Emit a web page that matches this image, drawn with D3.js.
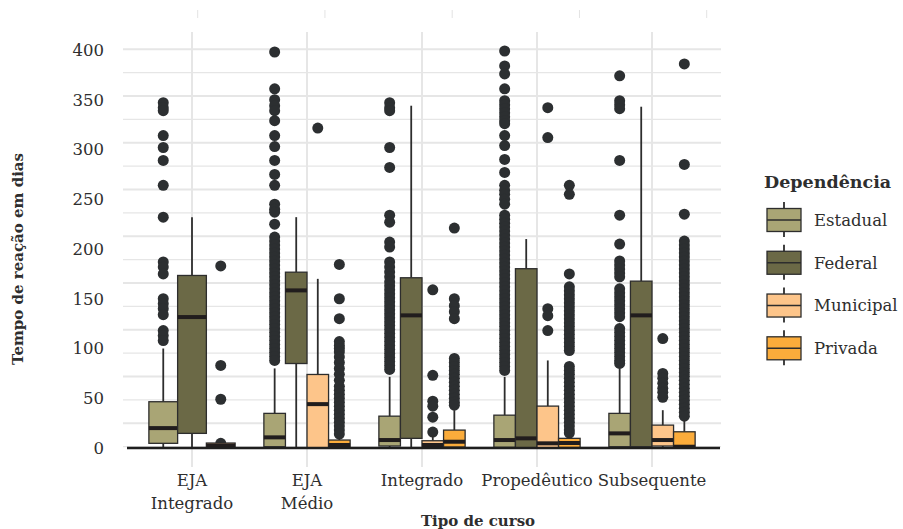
<!DOCTYPE html>
<html>
<head>
<meta charset="utf-8">
<style>
  body { margin: 0; background: #fff; }
  svg text { font-family: "DejaVu Serif", serif; fill: #2e2e2e; }
</style>
</head>
<body>
<svg id="chart" width="903" height="529"></svg>
<script src="https://cdn.jsdelivr.net/npm/d3@7/dist/d3.min.js"></script>
<script>
const cursos = ["EJA Integrado", "EJA Médio", "Integrado", "Propedêutico", "Subsequente"];
const cursoLabels = [["EJA", "Integrado"], ["EJA", "Médio"], ["Integrado"], ["Propedêutico"], ["Subsequente"]];
const dependencias = ["Estadual", "Federal", "Municipal", "Privada"];
const cores = ["#a9a575", "#6b6946", "#fdc58a", "#fbac3b"];
const yTicks = [0, 50, 100, 150, 200, 250, 300, 350, 400];

// [whisker low, q1, median, q3, whisker high] per curso (null = no data)
const estadual = [[0, 4.7, 20, 46.5, 100], [0, 1.3, 10.7, 34.8, 80], [0, 2, 8, 32, 71.5], [0, 0.7, 8, 33, 71.5], [0, 1.3, 14.7, 34.8, 80]];
const federal = [[0, 14.7, 131.6, 173.4, 232], [0, 84.9, 158.4, 176.7, 232], [0, 9.7, 133.3, 171.1, 344], [0, 0, 9.7, 180.2, 210], [0, 1.3, 133.3, 167.7, 343]];
const municipal = [[0, 0.5, 2.5, 5, 6], [0, 0, 44.1, 73.9, 170], [0, 0, 3, 7.3, 13], [0, 0, 4.7, 42.1, 88], [0, 2, 8, 23, 38]];
const privada = [null, [0, 0.5, 3, 8, 10], [0, 1, 6.3, 18, 38], [0, 0.5, 5, 9.7, 13], [0, 0, 1.3, 16.3, 28]];

const estadualOut = [
  [347, 342, 339, 314, 302, 289, 264, 232, 187, 182, 175, 150, 145, 140, 134, 118, 113, 108],
  [398, 361, 350, 344, 339, 329, 314, 303, 289, 275, 264, 245, 240, 237, 225, 212, 208, 204, 200, 196, 192, 188, 184, 180, 176, 172, 168, 164, 160, 156, 152, 148, 144, 140, 136, 132, 128, 124, 120, 116, 112, 108, 104, 100, 96, 92, 88],
  [347, 342, 339, 302, 282, 234, 227, 207, 202, 187, 182, 177, 172, 167, 163, 159, 155, 151, 147, 143, 139, 135, 131, 127, 123, 119, 115, 111, 107, 103, 99, 95, 91, 87, 83, 79],
  [399, 384, 376, 361, 349, 345, 341, 337, 333, 329, 326, 314, 304, 290, 277, 264, 259, 255, 250, 245, 234, 230, 226, 222, 218, 214, 210, 206, 202, 198, 194, 190, 186, 182, 178, 174, 170, 166, 162, 158, 154, 150, 146, 142, 138, 134, 130, 126, 122, 118, 114, 110, 106, 102, 98, 94, 90, 86, 82, 78],
  [374, 349, 345, 341, 289, 234, 205, 188, 184, 180, 176, 172, 160, 156, 152, 148, 144, 140, 136, 132, 120, 116, 112, 108, 104, 100, 96, 92, 88, 85]
];
const federalOut = [[], [], [], [], []];
const municipalOut = [
  [183, 83, 49, 4.7],
  [321.5],
  [159, 73, 47, 42, 31, 16],
  [342, 312, 140, 133, 118],
  [110, 75, 70, 65, 60, 56, 51]
];
const privadaOut = [
  [],
  [184.5, 150, 130, 107, 103, 100, 96.5, 91.5, 86, 80, 74, 68, 62, 58, 54, 50, 46, 42, 38, 34, 30, 26, 22, 18, 14],
  [221, 150, 143, 137, 130, 90, 86, 82, 78, 74, 70, 66, 62, 58, 54, 50, 46, 43],
  [264, 255, 175, 162, 158, 154, 150, 146, 142, 138, 134, 130, 126, 122, 118, 114, 110, 106, 102, 98, 82, 78, 74, 70, 66, 62, 58, 54, 50, 46, 42, 38, 34, 30, 26, 22, 18, 15],
  [386, 285, 235, 208, 204, 200, 196, 192, 188, 184, 180, 176, 172, 168, 164, 160, 156, 152, 148, 144, 140, 136, 132, 128, 124, 120, 116, 112, 108, 104, 100, 96, 92, 88, 84, 80, 76, 72, 68, 64, 60, 56, 52, 48, 44, 40, 36, 32]
];

const stats = [estadual, federal, municipal, privada];
const outs = [estadualOut, federalOut, municipalOut, privadaOut];

const svg = d3.select("#chart");
const panel = { left: 123, right: 721, top: 32, bottom: 467 };

const x = d3.scalePoint()
  .domain(cursos)
  .range([panel.left, panel.right])
  .padding(0.6);
const step = x.step();

const y = d3.scaleLinear()
  .domain([0, 400])
  .range([448, 50]);

// background grid
const gridY = d3.range(18).map(k => 1.3 + k * 399.4 / 17);
svg.append("g")
  .selectAll("line")
  .data(gridY)
  .join("line")
  .attr("x1", panel.left).attr("x2", panel.right)
  .attr("y1", d => y(d)).attr("y2", d => y(d))
  .attr("stroke", "#e6e6e6")
  .attr("stroke-width", (d, i) => (i % 2 === 1 ? 2 : 1.2));

svg.append("g")
  .selectAll("line")
  .data(cursos)
  .join("line")
  .attr("x1", d => x(d)).attr("x2", d => x(d))
  .attr("y1", panel.top).attr("y2", panel.bottom)
  .attr("stroke", "#e6e6e6")
  .attr("stroke-width", 2);

// faint ticks at the top
const xTop = d3.scalePoint().domain(cursos).range([197.7, 706.7]);
svg.append("g")
  .selectAll("line")
  .data(cursos)
  .join("line")
  .attr("x1", d => xTop(d)).attr("x2", d => xTop(d))
  .attr("y1", 10).attr("y2", 18)
  .attr("stroke", "#e3e3e3")
  .attr("stroke-width", 1);

// boxes
const dodge = 0.75 * step;
const plot = svg.append("g");
cursos.forEach((c, i) => {
  const present = dependencias.map((d, j) => j).filter(j => stats[j][i] !== null);
  const w = dodge / present.length;
  present.forEach((j, k) => {
    const s = stats[j][i];
    const x0 = x(c) - dodge / 2 + w * k;
    const cx = x0 + w / 2;
    const g = plot.append("g");
    g.selectAll("circle")
      .data(outs[j][i])
      .join("circle")
      .attr("cx", cx)
      .attr("cy", d => y(d))
      .attr("r", 5.5)
      .attr("fill", "#2c2f31");
    g.append("line")
      .attr("x1", cx).attr("x2", cx)
      .attr("y1", y(s[4])).attr("y2", y(s[3]))
      .attr("stroke", "#2d2d2d").attr("stroke-width", 1.8);
    g.append("line")
      .attr("x1", cx).attr("x2", cx)
      .attr("y1", y(s[1])).attr("y2", y(s[0]))
      .attr("stroke", "#2d2d2d").attr("stroke-width", 1.8);
    g.append("rect")
      .attr("x", x0).attr("width", w)
      .attr("y", y(s[3])).attr("height", Math.max(0.5, y(s[1]) - y(s[3])))
      .attr("fill", cores[j])
      .attr("stroke", "#2d2d2d")
      .attr("stroke-width", 1.3);
    g.append("line")
      .attr("x1", x0).attr("x2", x0 + w)
      .attr("y1", y(s[2])).attr("y2", y(s[2]))
      .attr("stroke", "#211d1d")
      .attr("stroke-width", 4);
  });
});

// zero line
svg.append("line")
  .attr("x1", 127).attr("x2", 720)
  .attr("y1", y(0)).attr("y2", y(0))
  .attr("stroke", "#1e1e1e")
  .attr("stroke-width", 2.5);

// y axis labels
svg.append("g")
  .selectAll("text")
  .data(yTicks)
  .join("text")
  .attr("x", 104)
  .attr("y", d => y(d))
  .attr("dy", "0.35em")
  .attr("text-anchor", "end")
  .style("font-size", "16.5px")
  .text(d => d);

// x axis labels
const xl = svg.append("g")
  .selectAll("text")
  .data(cursos)
  .join("text")
  .attr("x", d => x(d))
  .attr("y", 486)
  .attr("text-anchor", "middle")
  .style("font-size", "16.5px");
xl.selectAll("tspan")
  .data((d, i) => cursoLabels[i])
  .join("tspan")
  .attr("x", function () { return d3.select(this.parentNode).attr("x"); })
  .attr("dy", (d, i) => (i === 0 ? 0 : 23))
  .text(d => d);

// axis titles
svg.append("text")
  .attr("x", 478).attr("y", 526)
  .attr("text-anchor", "middle")
  .style("font-size", "15px")
  .style("font-weight", "bold")
  .text("Tipo de curso");

svg.append("text")
  .attr("transform", "translate(23,259) rotate(-90)")
  .attr("text-anchor", "middle")
  .style("font-size", "15px")
  .style("font-weight", "bold")
  .text("Tempo de reação em dias");

// legend
const legend = svg.append("g");
legend.append("text")
  .attr("x", 764).attr("y", 188)
  .style("font-size", "17.5px")
  .style("font-weight", "bold")
  .text("Dependência");

const keyY = d3.scalePoint().domain(dependencias).range([220, 348.3]);
dependencias.forEach((d, j) => {
  const cy = keyY(d);
  const k = legend.append("g");
  k.append("line")
    .attr("x1", 784).attr("x2", 784)
    .attr("y1", cy - 18).attr("y2", cy + 17)
    .attr("stroke", "#2d2d2d").attr("stroke-width", 1.8);
  k.append("rect")
    .attr("x", 767).attr("y", cy - 11.5)
    .attr("width", 34).attr("height", 23)
    .attr("fill", cores[j])
    .attr("stroke", "#2d2d2d").attr("stroke-width", 1.3);
  k.append("line")
    .attr("x1", 767).attr("x2", 801)
    .attr("y1", cy).attr("y2", cy)
    .attr("stroke", "#2d2d2d").attr("stroke-width", 1.5);
  k.append("text")
    .attr("x", 814).attr("y", cy)
    .attr("dy", "0.35em")
    .style("font-size", "16.5px")
    .text(d);
});
</script>
</body>
</html>
